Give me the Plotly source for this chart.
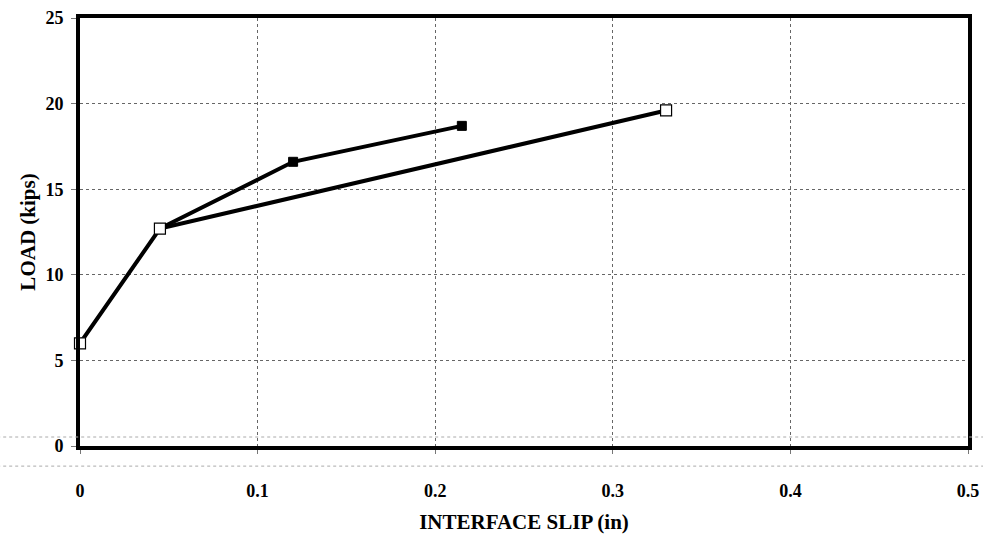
import plotly.graph_objects as go

# Data
slip_open = [0.0, 0.045, 0.33]
load_open = [6.0, 12.7, 19.6]

slip_filled = [0.045, 0.12, 0.215]
load_filled = [12.7, 16.6, 18.7]

x_ticks = [0, 0.1, 0.2, 0.3, 0.4, 0.5]
x_tick_labels = ["0", "0.1", "0.2", "0.3", "0.4", "0.5"]
y_ticks = [0, 5, 10, 15, 20, 25]

font_family = "Liberation Serif, Times New Roman, serif"

fig = go.Figure()

fig.add_trace(go.Scatter(
    x=slip_filled, y=load_filled, mode="lines+markers",
    line=dict(color="black", width=4),
    marker=dict(symbol="square", size=9, color="black",
                line=dict(color="black", width=1)),
    showlegend=False, cliponaxis=False,
))
fig.add_trace(go.Scatter(
    x=slip_open, y=load_open, mode="lines+markers",
    line=dict(color="black", width=4),
    marker=dict(symbol="square", size=11, color="white",
                line=dict(color="black", width=1.2)),
    showlegend=False, cliponaxis=False,
))

# faint full-width scan lines seen in the reference
for yp in [0.021, -0.047]:
    fig.add_shape(type="line", xref="paper", yref="paper",
                  x0=-0.1, x1=1.02, y0=yp, y1=yp,
                  line=dict(color="#aaaaaa", width=1, dash="dot"))

fig.update_layout(
    width=983, height=540,
    margin=dict(l=80, r=15, t=18, b=94),
    paper_bgcolor="white", plot_bgcolor="white",
    font=dict(family=font_family, color="black"),
    xaxis=dict(
        range=[0, 0.5], tickvals=x_ticks, ticktext=x_tick_labels,
        showgrid=True, gridcolor="#666666", griddash="dot", gridwidth=1,
        zeroline=False, showline=True, linecolor="black", linewidth=4,
        mirror=True, ticks="outside", ticklen=4, tickcolor="#777777",
        ticklabelstandoff=21, automargin=False,
        tickfont=dict(family=font_family, size=18, color="black", weight="bold"),
        title=dict(text="<b>INTERFACE SLIP (in)</b>", standoff=16,
                   font=dict(family=font_family, size=21, color="black")),
    ),
    yaxis=dict(
        range=[0, 25], tickvals=y_ticks,
        showgrid=True, gridcolor="#666666", griddash="dot", gridwidth=1,
        zeroline=False, showline=True, linecolor="black", linewidth=4,
        mirror=True, ticks="outside", ticklen=5, tickcolor="#777777",
        ticklabelstandoff=4, automargin=False,
        tickfont=dict(family=font_family, size=18, color="black", weight="bold"),
        title=dict(text="<b>LOAD (kips)</b>", standoff=5,
                   font=dict(family=font_family, size=21, color="black")),
    ),
)

fig.write_html("out.html", config={"displayModeBar": False},
               post_script="document.body.style.margin='0px';")
